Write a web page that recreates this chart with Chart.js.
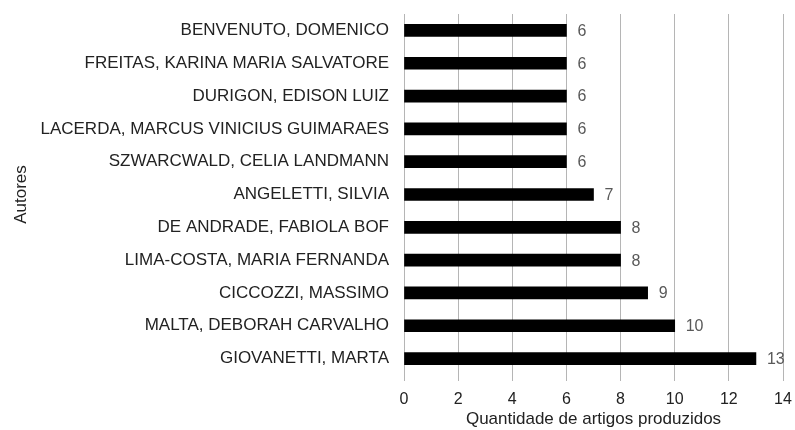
<!DOCTYPE html>
<html>
<head>
<meta charset="utf-8">
<script src="https://cdn.jsdelivr.net/npm/chart.js@4"></script>
<style>
  html, body { margin: 0; padding: 0; background: #fff; }
  #wrap { width: 795px; height: 430px; }
</style>
</head>
<body>
<div id="wrap"><canvas id="myChart" width="795" height="430"></canvas></div>
<script>
var autores = [
    'BENVENUTO, DOMENICO',
    'FREITAS, KARINA MARIA SALVATORE',
    'DURIGON, EDISON LUIZ',
    'LACERDA, MARCUS VINICIUS GUIMARAES',
    'SZWARCWALD, CELIA LANDMANN',
    'ANGELETTI, SILVIA',
    'DE ANDRADE, FABIOLA BOF',
    'LIMA-COSTA, MARIA FERNANDA',
    'CICCOZZI, MASSIMO',
    'MALTA, DEBORAH CARVALHO',
    'GIOVANETTI, MARTA'
];
var artigos = [6, 6, 6, 6, 6, 7, 8, 8, 9, 10, 13];
var xMin = 0, xMax = 14, xStep = 2;

var fontFam = '"Liberation Sans", Arial, sans-serif';

// labels at the end of each bar
var valueLabels = {
    id: 'valueLabels',
    afterDatasetsDraw: function (chart) {
        var c = chart.ctx;
        var meta = chart.getDatasetMeta(0);
        c.save();
        c.font = '16px ' + fontFam;
        c.fillStyle = '#595959';
        c.textAlign = 'left';
        c.textBaseline = 'middle';
        meta.data.forEach(function (bar, i) {
            c.fillText(artigos[i], bar.x + 11, bar.y + 1);
        });
        c.restore();
    }
};

var ctx = document.getElementById('myChart').getContext('2d');
var myChart = new Chart(ctx, {
    type: 'bar',
    data: {
        labels: autores,
        datasets: [{
            data: artigos,
            backgroundColor: '#000000',
            barThickness: 12
        }]
    },
    options: {
        indexAxis: 'y',
        responsive: false,
        animation: false,
        layout: { padding: { left: 11, right: 12, top: 14, bottom: 0 } },
        plugins: {
            legend: { display: false },
            tooltip: { enabled: false }
        },
        scales: {
            x: {
                min: xMin,
                max: xMax,
                ticks: {
                    stepSize: xStep,
                    padding: 9,
                    color: '#222',
                    font: { family: fontFam, size: 16 }
                },
                grid: { color: '#b5b5b5', lineWidth: 1, tickLength: 6 },
                border: { display: false },
                title: {
                    display: true,
                    text: 'Quantidade de artigos produzidos',
                    color: '#222',
                    font: { family: fontFam, size: 17 },
                    padding: { top: 2, bottom: 0 }
                },
                afterFit: function (s) {
                    s.height = 55;
                    s.paddingLeft = 0;
                    s.paddingRight = 0;
                }
            },
            y: {
                ticks: {
                    padding: 15,
                    color: '#222',
                    font: { family: fontFam, size: 17 }
                },
                grid: { display: false, drawTicks: false },
                border: { display: false },
                title: {
                    display: true,
                    text: 'Autores',
                    color: '#222',
                    font: { family: fontFam, size: 17 },
                    padding: { top: 0, bottom: 0 }
                },
                afterFit: function (s) {
                    s.width = 393;
                    s.paddingTop = 0;
                    s.paddingBottom = 0;
                }
            }
        }
    },
    plugins: [valueLabels]
});
</script>
</body>
</html>
